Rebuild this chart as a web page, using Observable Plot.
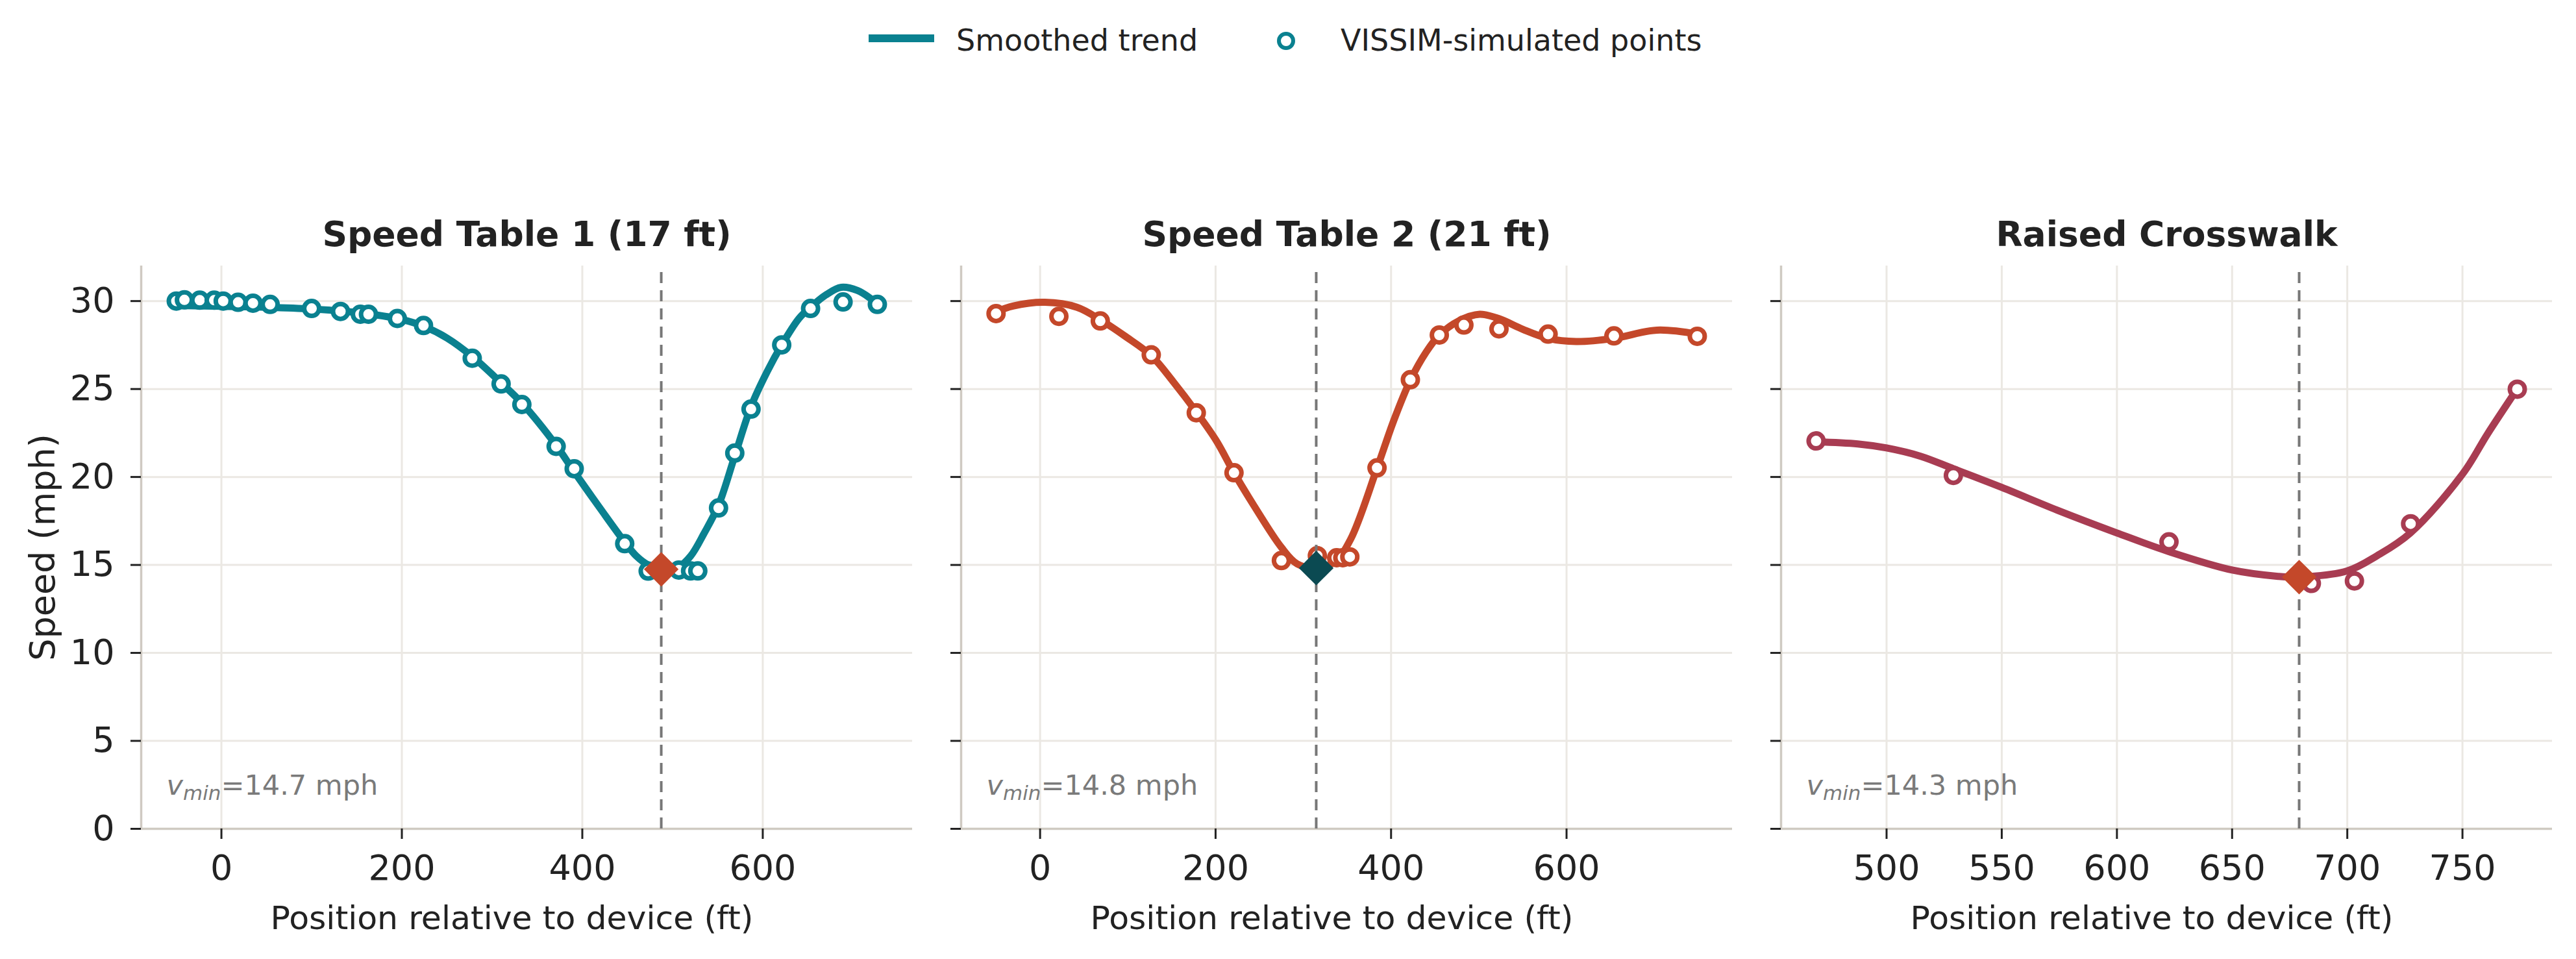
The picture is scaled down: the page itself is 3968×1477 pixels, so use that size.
<!DOCTYPE html>
<html>
<head>
<meta charset="utf-8">
<script src="https://cdn.jsdelivr.net/npm/d3@7"></script>
<script src="https://cdn.jsdelivr.net/npm/@observablehq/plot@0.6"></script>
<style>
  html, body { margin: 0; padding: 0; background: #fff; }
  #page { position: relative; width: 3968px; height: 1477px; background: #fff; font-family: "DejaVu Sans", sans-serif; color: #222; overflow: hidden; }
  .panel { position: absolute; top: 300px; }
  .leg { position: absolute; font-size: 46px; line-height: 1; white-space: nowrap; color: #222; }
</style>
</head>
<body>
<div id="page"></div>
<script>
// ---------- data ----------
const titles = ["Speed Table 1 (17 ft)", "Speed Table 2 (21 ft)", "Raised Crosswalk"];

// VISSIM-simulated points
const st1X = [-50,-41,-24,-8,2,18.5,35,54,100,132,154,163,195,224,278,310,333,371,391,447,473,490,507,520,528,551,569,587,621,653,689,727];
const st1Y = [30.0,30.07,30.05,30.05,30.0,29.93,29.88,29.81,29.58,29.41,29.25,29.25,29.01,28.61,26.75,25.29,24.12,21.74,20.47,16.21,14.65,14.7,14.71,14.66,14.66,18.24,21.36,23.86,27.51,29.58,29.95,29.81];
const st2X = [-50.2,21.4,68.6,126.7,178,221,275,316,338,345,353,384,422,455,483,523,579,654,749];
const st2Y = [29.29,29.13,28.87,26.94,23.65,20.24,15.25,15.53,15.41,15.41,15.46,20.52,25.53,28.07,28.64,28.42,28.12,28.02,28.0];
const rcX = [469.4,529,622.6,684.4,703.1,727.5,773.8];
const rcY = [22.05,20.09,16.31,13.95,14.09,17.34,24.99];

// Smoothed trend
const t1X = [-50,0,50,100,150,200,225,250,278,310,333,371,391,420,447,460,473,488,507,520,535,551,569,587,605,621,640,653,670,687,705,718,727];
const t1Y = [29.75,29.7,29.65,29.55,29.35,28.95,28.55,27.9,26.85,25.35,24.2,21.8,20.3,18.2,16.3,15.5,15.0,14.75,14.9,15.5,16.8,18.4,21.2,24.0,26.0,27.5,29.0,29.65,30.35,30.78,30.6,30.2,29.8];
const t2X = [-50,-31,5.5,42,68.6,97,126.7,152,178,201,221,244,275,293,315,336,354,384,403,422,440,455,477,501,523,550,579,611,654,703,749];
const t2Y = [29.4,29.72,29.93,29.65,28.94,28.0,26.9,25.4,23.7,22.05,20.24,18.35,16.0,15.06,14.82,15.18,16.47,20.5,23.2,25.5,27.1,28.07,28.87,29.25,29.0,28.4,27.88,27.7,27.88,28.35,28.12];
const t3X = [469.4,487.5,500,514.8,529,550,574,600,622.5,650,670,679,700,713,727.4,750,761,773.7];
const t3Y = [22.0,21.88,21.65,21.18,20.47,19.41,18.12,16.82,15.76,14.71,14.35,14.31,14.66,15.53,16.82,20.16,22.47,24.99];

// minimum-speed markers
const minX = [487.5, 314.7, 679.1];
const minY = [14.75, 14.82, 14.31];
const minLabel = ["14.7", "14.8", "14.3"];

// ticks
const yTicks = [0,5,10,15,20,25,30];
const xTicks1 = [0,200,400,600];
const xTicks2 = [0,200,400,600];
const xTicks3 = [500,550,600,650,700,750];

// ---------- styling ----------
const colors = ["#0a8190", "#c4482a", "#a83c52"];
const minColors = ["#c4482a", "#0b4a52", "#c4482a"];
const xDomains = [[-88.9, 765.9], [-90, 789], [454.2, 789]];
const xTickSets = [xTicks1, xTicks2, xTicks3];
const pts = [[st1X, st1Y], [st2X, st2Y], [rcX, rcY]];
const trends = [[t1X, t1Y], [t2X, t2Y], [t3X, t3Y]];

const ink = "#222";
const gridColor = "#ebe8e3";
const spineColor = "#cfcac2";
const FRAME_W = 1188;
const lefts = [0, 1440, 2703];
const mLefts = [217, 40, 40];

const page = document.getElementById("page");

function zipXY(xs, ys) { return xs.map((x, i) => ({x, y: ys[i]})); }

for (let i = 0; i < 3; i++) {
  const pData = zipXY(pts[i][0], pts[i][1]);
  const tData = zipXY(trends[i][0], trends[i][1]);
  const mData = [{x: minX[i], y: minY[i]}];
  const [x0, x1] = xDomains[i];
  const marks = [
    Plot.gridX(xTickSets[i], {stroke: gridColor, strokeOpacity: 1, strokeWidth: 3}),
    Plot.gridY(yTicks, {stroke: gridColor, strokeOpacity: 1, strokeWidth: 3}),
    Plot.ruleY([0], {stroke: spineColor, strokeWidth: 3.5}),
    Plot.ruleX([x0], {stroke: spineColor, strokeWidth: 3.5}),
    Plot.axisX({ticks: xTickSets[i], label: null, tickSize: 16, tickPadding: 24, fontSize: 54, strokeWidth: 3, stroke: ink, fill: ink}),
    Plot.axisY({ticks: yTicks, label: null, tickSize: 16, tickPadding: 25, fontSize: 54, strokeWidth: 3, stroke: ink, fill: ink,
      tickFormat: i === 0 ? (d => String(d)) : (() => "")}),
    Plot.line(tData, {x: "x", y: "y", stroke: colors[i], strokeWidth: 11, curve: "catmull-rom", strokeLinecap: "round"}),
    Plot.dot(pData, {x: "x", y: "y", r: 11.5, stroke: colors[i], strokeWidth: 7, fill: "white"}),
    Plot.ruleX(mData, {x: "x", y1: 0, y2: 32, stroke: "#777", strokeWidth: 4, strokeDasharray: "17,11"}),
    Plot.dot(mData, {x: "x", y: "y", symbol: "diamond2", r: 24, fill: minColors[i], stroke: "none"}),
    Plot.text([titles[i]], {text: d => d, frameAnchor: "top", lineAnchor: "bottom", dy: -31, fontSize: 53.5, fontWeight: "bold", fill: ink}),
    Plot.text(["Position relative to device (ft)"], {text: d => d, frameAnchor: "bottom", lineAnchor: "bottom", dx: -23, dy: 154, fontSize: 50.5, fill: ink}),
    Plot.text(["v_min=" + minLabel[i] + " mph"], {text: d => d, frameAnchor: "bottom-left", textAnchor: "start", lineAnchor: "bottom", dx: 39, dy: -53, fontSize: 43, fill: "#7a7a7a"})
  ];
  if (i === 0) {
    marks.push(Plot.text(["Speed (mph)"], {text: d => d, frameAnchor: "left", rotate: -90, textAnchor: "middle", lineAnchor: "bottom", dx: -134, fontSize: 54, fill: ink}));
  }
  const svg = Plot.plot({
    width: mLefts[i] + FRAME_W + 20,
    height: 1177,
    marginLeft: mLefts[i],
    marginRight: 20,
    marginTop: 109,
    marginBottom: 201,
    x: {domain: xDomains[i], axis: null},
    y: {domain: [0, 32], axis: null},
    style: {fontFamily: "DejaVu Sans, sans-serif", fontSize: "54px", color: ink, background: "transparent", overflow: "visible"},
    marks
  });
  // subscript for v_min
  svg.querySelectorAll("text").forEach(t => {
    const s = t.textContent;
    if (s.startsWith("v_min=")) {
      const rest = s.slice(5);
      while (t.firstChild) t.removeChild(t.firstChild);
      const ns = "http://www.w3.org/2000/svg";
      const a = document.createElementNS(ns, "tspan");
      a.setAttribute("font-style", "italic"); a.textContent = "v";
      const b = document.createElementNS(ns, "tspan");
      b.setAttribute("font-style", "italic"); b.setAttribute("font-size", "31"); b.setAttribute("dy", "8"); b.textContent = "min";
      const c = document.createElementNS(ns, "tspan");
      c.setAttribute("dy", "-8"); c.textContent = rest;
      t.appendChild(a); t.appendChild(b); t.appendChild(c);
    }
  });
  const wrap = document.createElement("div");
  wrap.className = "panel";
  wrap.style.left = lefts[i] + "px";
  wrap.appendChild(svg);
  page.appendChild(wrap);
}

// ---------- legend ----------
const legendLabels = ["Smoothed trend", "VISSIM-simulated points"];
(function legend() {
  const sw = document.createElement("div");
  sw.style.cssText = `position:absolute;left:1338px;top:53px;width:101px;height:12px;background:${colors[0]};`;
  page.appendChild(sw);
  const t1 = document.createElement("div");
  t1.className = "leg"; t1.textContent = legendLabels[0];
  t1.style.left = "1473px"; t1.style.top = "39px";
  page.appendChild(t1);
  const c = document.createElement("div");
  c.style.cssText = `position:absolute;left:1967px;top:49px;width:16px;height:16px;border:6px solid ${colors[0]};border-radius:50%;background:#fff;`;
  page.appendChild(c);
  const t2 = document.createElement("div");
  t2.className = "leg"; t2.textContent = legendLabels[1];
  t2.style.left = "2065px"; t2.style.top = "39px";
  page.appendChild(t2);
})();
</script>
</body>
</html>
